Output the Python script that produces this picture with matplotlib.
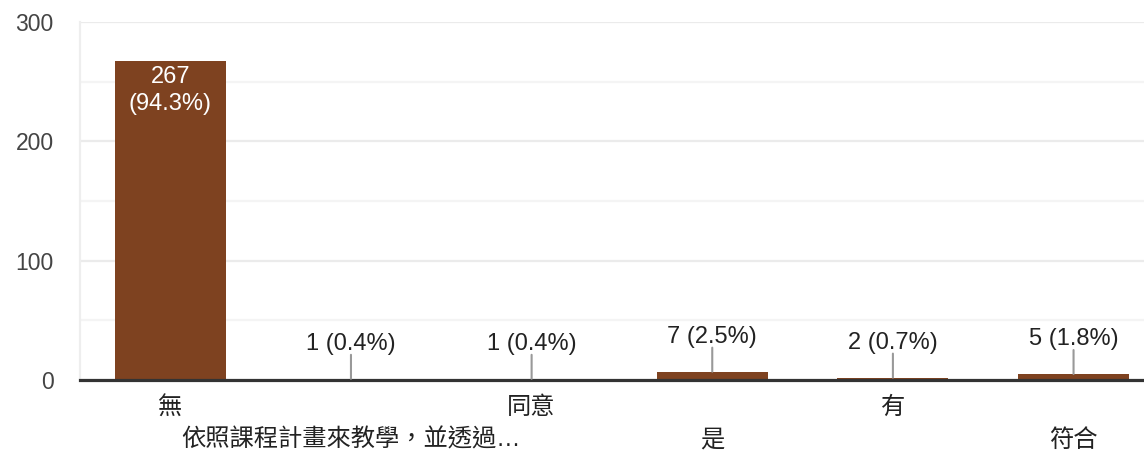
import matplotlib.pyplot as plt
from matplotlib.ticker import MultipleLocator

plt.rcParams['font.family'] = ['Liberation Sans', 'Noto Sans CJK TC', 'DejaVu Sans']

labels = ['無', '依照課程計畫來教學，並透過…', '同意', '是', '有', '符合']
counts = [267, 1, 1, 7, 2, 5]
percents = [94.3, 0.4, 0.4, 2.5, 0.7, 1.8]

bar_color = '#7E4220'
px = 72 / 100  # points per pixel at dpi 100
fs = 17

fig = plt.figure(figsize=(11.44, 4.51), dpi=100)
ax = fig.add_axes([80 / 1144, 71 / 451, 1064 / 1144, 358 / 451])

x = list(range(len(counts)))
ax.bar(x, counts, width=0.615, color=bar_color, zorder=2)

ax.set_xlim(-0.5, 5.39)
ax.set_ylim(0, 300)

# grid: major every 100, lighter minor every 50
ax.yaxis.set_major_locator(MultipleLocator(100))
ax.yaxis.set_minor_locator(MultipleLocator(50))
ax.grid(axis='y', which='major', color='#ebebeb', linewidth=1.6, zorder=0)
ax.grid(axis='y', which='minor', color='#f4f4f4', linewidth=1.6, zorder=0)
ax.set_xticks([])
ax.tick_params(axis='y', which='both', length=0, pad=19, labelsize=16.5, labelcolor='#444444')

for s in ['top', 'right', 'bottom']:
    ax.spines[s].set_visible(False)
ax.spines['left'].set_color('#eeeeee')
ax.spines['left'].set_linewidth(1.6)

# baseline
ax.axhline(0, color='#333333', linewidth=2.3, zorder=3, clip_on=False)

# value labels
for i, (c, p) in enumerate(zip(counts, percents)):
    if c > 50:
        ax.annotate(f'{c}\n({p}%)', xy=(i, c), xytext=(0, -5 * px),
                    textcoords='offset points', ha='center', va='top',
                    color='white', fontsize=fs, linespacing=1.25, zorder=4)
    else:
        ax.annotate('', xy=(i, c), xytext=(0, 24 * px), textcoords='offset points',
                    arrowprops=dict(arrowstyle='-', color='#999999', lw=1.5,
                                    shrinkA=0, shrinkB=0), zorder=4)
        ax.annotate(f'{c} ({p}%)', xy=(i, c), xytext=(0, 35 * px),
                    textcoords='offset points', ha='center', va='center',
                    color='#222222', fontsize=fs, zorder=4)

# category labels in two staggered rows
for i, lab in enumerate(labels):
    off = 28 if i % 2 == 0 else 60
    ax.annotate(lab, xy=(i, 0), xytext=(0, -off * px), textcoords='offset points',
                ha='center', va='center', color='#222222', fontsize=17.5,
                annotation_clip=False)

fig.savefig('out.png', dpi=100)
